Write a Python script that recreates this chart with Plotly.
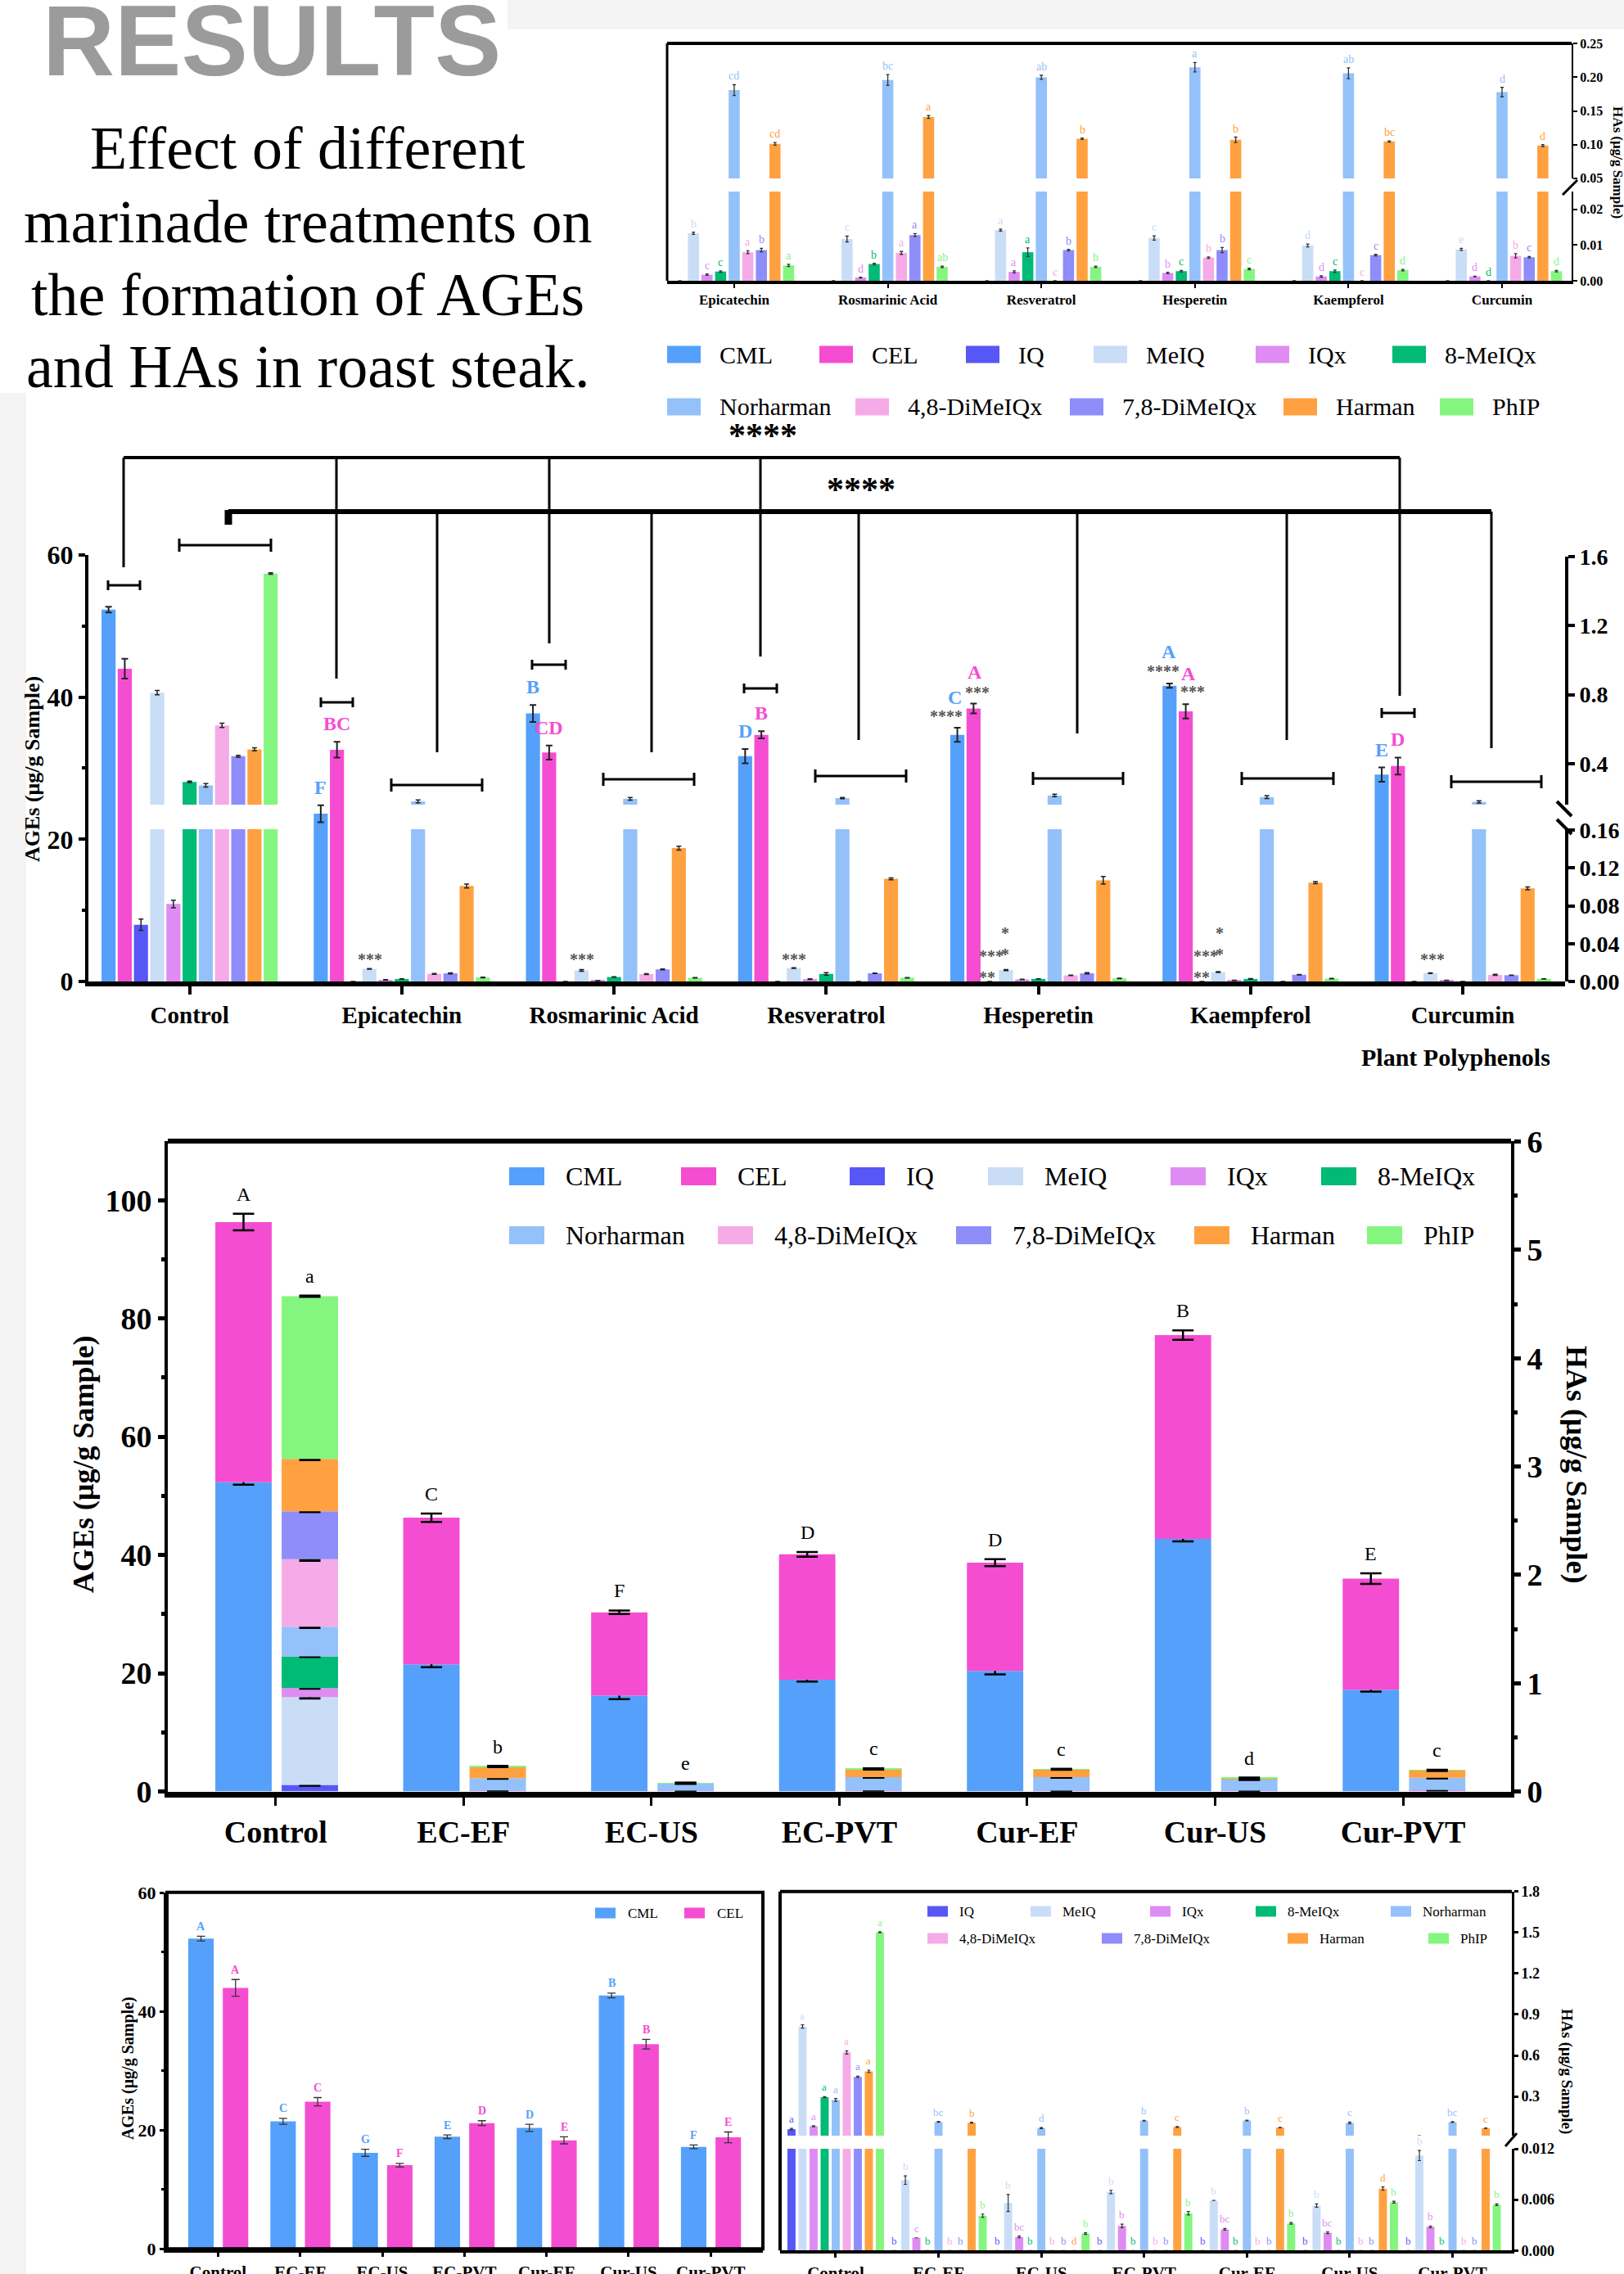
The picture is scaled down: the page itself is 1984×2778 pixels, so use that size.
import numpy as np
import plotly.graph_objects as go

W, H = 1984, 2778
SERIF = "Liberation Serif"
SANS = "Liberation Sans"

# ----------------------------- data ---------------------------------
polyphenols = ["Epicatechin", "Rosmarinic Acid", "Resveratrol", "Hesperetin", "Kaempferol", "Curcumin"]
treatments = ["Control", "EC-EF", "EC-US", "EC-PVT", "Cur-EF", "Cur-US", "Cur-PVT"]
ha_names = ["IQ", "MeIQ", "IQx", "8-MeIQx", "Norharman", "4,8-DiMeIQx", "7,8-DiMeIQx", "Harman", "PhIP"]
age_names = ["CML", "CEL"]

# AGEs (ug/g sample) by treatment
trt_cml = [52.3, 21.5, 16.2, 18.9, 20.4, 42.7, 17.2]
trt_cml_err = [0.4, 0.5, 0.6, 0.3, 0.6, 0.4, 0.3]
trt_cel = [44.0, 24.8, 14.1, 21.2, 18.3, 34.5, 18.8]
trt_cel_err = [1.4, 0.7, 0.3, 0.4, 0.6, 0.8, 0.9]
trt_cml_let = ["A", "C", "G", "E", "D", "B", "F"]
trt_cel_let = ["A", "C", "F", "D", "E", "B", "E"]
trt_age_sum_let = ["A", "C", "F", "D", "D", "B", "E"]
trt_ha_sum_let = ["a", "b", "e", "c", "c", "d", "c"]

# AGEs by plant polyphenol
poly_cml = [23.6, 37.7, 31.7, 34.7, 41.6, 29.1]
poly_cml_err = [1.2, 1.2, 1.0, 1.0, 0.3, 1.0]
poly_cel = [32.6, 32.2, 34.7, 38.4, 38.0, 30.3]
poly_cel_err = [1.1, 1.0, 0.5, 0.7, 1.0, 1.2]
poly_cml_let = ["F", "B", "D", "C", "A", "E"]
poly_cel_let = ["BC", "CD", "B", "A", "A", "D"]

# HAs (ug/g sample) by plant polyphenol
poly_iq = [0, 0, 0, 0, 0, 0]
poly_meiq = [0.0133, 0.0117, 0.0142, 0.0120, 0.0099, 0.0088]
poly_iqx = [0.0017, 0.0009, 0.0025, 0.0022, 0.0012, 0.0012]
poly_8meiqx = [0.0026, 0.0047, 0.0080, 0.0027, 0.0027, 0.0]
poly_norharman = [0.181, 0.196, 0.200, 0.215, 0.206, 0.178]
poly_48dimeiqx = [0.0080, 0.0078, 0.0, 0.0065, 0.0, 0.0070]
poly_78dimeiqx = [0.0086, 0.0128, 0.0086, 0.0086, 0.0072, 0.0066]
poly_harman = [0.101, 0.141, 0.1086, 0.107, 0.1045, 0.0985]
poly_phip = [0.0043, 0.0039, 0.0039, 0.0033, 0.0030, 0.0027]

poly_iq_err = [0, 0, 0, 0, 0, 0]
poly_meiq_err = [0.0003, 0.0008, 0.0003, 0.0006, 0.0004, 0.0003]
poly_iqx_err = [0.0002, 0.0001, 0.0003, 0.0002, 0.0002, 0.0001]
poly_8meiqx_err = [0.0002, 0.0002, 0.0012, 0.0002, 0.0003, 0]
poly_norharman_err = [0.008, 0.008, 0.003, 0.007, 0.008, 0.007]
poly_48dimeiqx_err = [0.0004, 0.0004, 0, 0.0002, 0, 0.0006]
poly_78dimeiqx_err = [0.0005, 0.0004, 0.0002, 0.0007, 0.0002, 0.0002]
poly_harman_err = [0.002, 0.002, 0.001, 0.004, 0.001, 0.0015]
poly_phip_err = [0.0003, 0.0002, 0.0002, 0.0002, 0.0002, 0.0002]

poly_iq_let = ["", "", "", "", "", ""]
poly_meiq_let = ["b", "c", "a", "c", "d", "e"]
poly_iqx_let = ["c", "d", "a", "b", "d", "d"]
poly_8meiqx_let = ["c", "b", "a", "c", "c", "d"]
poly_norharman_let = ["cd", "bc", "ab", "a", "ab", "d"]
poly_48dimeiqx_let = ["a", "a", "c", "b", "c", "b"]
poly_78dimeiqx_let = ["b", "a", "b", "b", "c", "c"]
poly_harman_let = ["cd", "a", "b", "b", "bc", "d"]
poly_phip_let = ["a", "ab", "b", "c", "d", "d"]

# HAs (ug/g sample) by treatment
trt_iq = [0.060, 0, 0, 0, 0, 0, 0]
trt_meiq = [0.812, 0.0083, 0.0056, 0.0069, 0.0059, 0.0053, 0.0112]
trt_iqx = [0.082, 0.0015, 0.0016, 0.0029, 0.0025, 0.0021, 0.0028]
trt_8meiqx = [0.294, 0, 0, 0, 0, 0, 0]
trt_norharman = [0.274, 0.113, 0.068, 0.122, 0.123, 0.106, 0.112]
trt_48dimeiqx = [0.622, 0, 0, 0, 0, 0, 0]
trt_78dimeiqx = [0.443, 0, 0, 0, 0, 0, 0]
trt_harman = [0.483, 0.107, 0, 0.076, 0.072, 0.0073, 0.067]
trt_phip = [1.503, 0.0041, 0.0020, 0.0044, 0.0032, 0.0057, 0.0054]

trt_iq_err = [0.006, 0, 0, 0, 0, 0, 0]
trt_meiq_err = [0.012, 0.0005, 0.0010, 0.0002, 0.0, 0.0002, 0.0006]
trt_iqx_err = [0.004, 0.0, 0.0001, 0.0002, 0.0001, 0.0001, 0.0001]
trt_8meiqx_err = [0.004, 0, 0, 0, 0, 0, 0]
trt_norharman_err = [0.010, 0.003, 0.004, 0.002, 0.002, 0.006, 0.003]
trt_48dimeiqx_err = [0.012, 0, 0, 0, 0, 0, 0]
trt_78dimeiqx_err = [0.005, 0, 0, 0, 0, 0, 0]
trt_harman_err = [0.009, 0.003, 0, 0.003, 0.002, 0.0002, 0.002]
trt_phip_err = [0.004, 0.0002, 0.0001, 0.0002, 0.0001, 0.0001, 0.0001]

trt_iq_let = ["a", "b", "b", "b", "b", "b", "b"]
trt_meiq_let = ["a", "b", "b", "b", "b", "b", "b"]
trt_iqx_let = ["a", "c", "bc", "b", "bc", "bc", "b"]
trt_8meiqx_let = ["a", "b", "b", "b", "b", "b", "b"]
trt_norharman_let = ["a", "bc", "d", "b", "b", "c", "bc"]
trt_48dimeiqx_let = ["a", "b", "b", "b", "b", "b", "b"]
trt_78dimeiqx_let = ["a", "b", "b", "b", "b", "b", "b"]
trt_harman_let = ["a", "b", "d", "c", "c", "d", "c"]
trt_phip_let = ["a", "b", "b", "b", "b", "b", "b"]

colors = {"CML": "#55A0FA", "CEL": "#F54DD2", "IQ": "#5757F5", "MeIQ": "#C9DDF7",
          "IQx": "#DE8CF4", "8-MeIQx": "#00BA75", "Norharman": "#94C1F9",
          "4,8-DiMeIQx": "#F5ABE7", "7,8-DiMeIQx": "#8F8DFA", "Harman": "#FFA140",
          "PhIP": "#84F680"}

poly_ha = dict(zip(ha_names, [poly_iq, poly_meiq, poly_iqx, poly_8meiqx, poly_norharman,
                              poly_48dimeiqx, poly_78dimeiqx, poly_harman, poly_phip]))
poly_ha_err = dict(zip(ha_names, [poly_iq_err, poly_meiq_err, poly_iqx_err, poly_8meiqx_err,
                                  poly_norharman_err, poly_48dimeiqx_err, poly_78dimeiqx_err,
                                  poly_harman_err, poly_phip_err]))
poly_ha_let = dict(zip(ha_names, [poly_iq_let, poly_meiq_let, poly_iqx_let, poly_8meiqx_let,
                                  poly_norharman_let, poly_48dimeiqx_let, poly_78dimeiqx_let,
                                  poly_harman_let, poly_phip_let]))
trt_ha = dict(zip(ha_names, [trt_iq, trt_meiq, trt_iqx, trt_8meiqx, trt_norharman,
                             trt_48dimeiqx, trt_78dimeiqx, trt_harman, trt_phip]))
trt_ha_err = dict(zip(ha_names, [trt_iq_err, trt_meiq_err, trt_iqx_err, trt_8meiqx_err,
                                 trt_norharman_err, trt_48dimeiqx_err, trt_78dimeiqx_err,
                                 trt_harman_err, trt_phip_err]))
trt_ha_let = dict(zip(ha_names, [trt_iq_let, trt_meiq_let, trt_iqx_let, trt_8meiqx_let,
                                 trt_norharman_let, trt_48dimeiqx_let, trt_78dimeiqx_let,
                                 trt_harman_let, trt_phip_let]))
trt_age = {"CML": trt_cml, "CEL": trt_cel}
trt_age_err = {"CML": trt_cml_err, "CEL": trt_cel_err}
trt_age_let = {"CML": trt_cml_let, "CEL": trt_cel_let}


# ----------------------------- helpers ------------------------------
def xp(v):
    return v / W


def yp(v):
    return 1 - v / H


shapes = []
ann = []


def line(x0, y0, x1, y1, w=3, color="black"):
    shapes.append(dict(type="line", xref="paper", yref="paper", x0=xp(x0), y0=yp(y0),
                       x1=xp(x1), y1=yp(y1), line=dict(color=color, width=w)))


def rect(x0, y0, x1, y1, fill=None, lw=0, lc="black", layer="above"):
    d = dict(type="rect", xref="paper", yref="paper", x0=xp(x0), y0=yp(y1), x1=xp(x1), y1=yp(y0),
             line=dict(color=lc, width=lw), layer=layer)
    if fill:
        d["fillcolor"] = fill
    shapes.append(d)


def text(x, y, t, size, color="black", bold=False, family=SERIF, xanchor="center",
         yanchor="middle", angle=0, align="center"):
    ann.append(dict(xref="paper", yref="paper", x=xp(x), y=yp(y), text=t, showarrow=False,
                    font=dict(family=family, size=size, color=color,
                              weight="bold" if bold else "normal"),
                    xanchor=xanchor, yanchor=yanchor, textangle=angle, align=align))


def ibracket(x0, x1, y, lw=3, cap=6):
    line(x0, y, x1, y, lw)
    line(x0, y - cap, x0, y + cap, lw)
    line(x1, y - cap, x1, y + cap, lw)


def errs_nz(vals, errs):
    return [e if v > 0 else None for v, e in zip(vals, errs)]


def xaxis_cfg(x0, x1, cats, rng, anchor, size, lw, tlen, tw):
    return dict(domain=[xp(x0), xp(x1)], type="category", categoryorder="array",
                categoryarray=cats, range=rng, anchor=anchor, showline=True,
                linecolor="black", linewidth=lw, ticks="outside", ticklen=tlen, tickwidth=tw,
                tickcolor="black", showgrid=False, zeroline=False, automargin=False,
                tickfont=dict(family=SERIF, size=size, color="black", weight="bold"))


def yaxis_cfg(top, bottom, rng, anchor, side, tv, tt, size, lw, tlen, tw, minor=None,
              overlaying=None):
    d = dict(range=rng, anchor=anchor, side=side, showline=True, linecolor="black",
             linewidth=lw, ticks="outside", ticklen=tlen, tickwidth=tw, tickcolor="black",
             tickmode="array", tickvals=tv, ticktext=tt, showgrid=False, zeroline=False,
             automargin=False,
             tickfont=dict(family=SERIF, size=size, color="black", weight="bold"))
    if overlaying:
        d["overlaying"] = overlaying
    else:
        d["domain"] = [yp(bottom), yp(top)]
    if minor:
        d["minor"] = dict(tickmode="array", tickvals=minor, ticks="outside",
                          ticklen=max(3, int(tlen * 0.6)), tickwidth=tw, tickcolor="black",
                          showgrid=False)
    return d


fig = go.Figure()

# background details
rect(620, 0, 1984, 36, fill="#f4f4f4", layer="below")
rect(0, 480, 32, 2778, fill="#f3f3f3", layer="below")

# header texts
text(50, 50, "RESULTS", 122, color="#9b9b9b", bold=True, family=SANS, xanchor="left")
for t, yy in zip(["Effect of different", "marinade treatments on",
                  "the formation of AGEs", "and HAs in roast steak."], [181, 271, 360, 448]):
    text(376, yy, t, 74)

# ================= Panel A: HAs by polyphenol (top right) =================
slotA, wA = 0.0885, 0.0725
for i, name in enumerate(ha_names):
    off = (i - 4) * slotA - wA / 2
    vals = poly_ha[name]
    for ya in ("y", "y2"):
        fig.add_trace(go.Bar(x=polyphenols, y=vals, xaxis="x", yaxis=ya, offset=off, width=wA,
                             marker=dict(color=colors[name], line=dict(width=0)),
                             error_y=dict(type="data", array=errs_nz(vals, poly_ha_err[name]),
                                          color="#333333", thickness=1.3, width=2),
                             showlegend=False, hoverinfo="skip"))
    for j, lt in enumerate(poly_ha_let[name]):
        if not lt:
            continue
        ann.append(dict(xref="x", yref="y2" if vals[j] > 0.03 else "y",
                        x=j + (i - 4) * slotA, y=vals[j] + poly_ha_err[name][j], text=lt,
                        showarrow=False, yanchor="bottom", yshift=1,
                        font=dict(family=SERIF, size=14, color=colors[name])))

line(815, 53, 1920, 53, 4)
line(815, 53, 815, 343, 3)
line(1909, 238, 1927, 220, 3)
text(1976, 198, "HAs (μg/g Sample)", 17, bold=True, angle=90)

# legend 1
leg1 = [("CML", 815, 433), ("CEL", 1001, 433), ("IQ", 1180, 433), ("MeIQ", 1336, 433),
        ("IQx", 1534, 433), ("8-MeIQx", 1701, 433), ("Norharman", 815, 497),
        ("4,8-DiMeIQx", 1045, 497), ("7,8-DiMeIQx", 1307, 497), ("Harman", 1568, 497),
        ("PhIP", 1759, 497)]
for name, lx, ly in leg1:
    rect(lx, ly - 10.5, lx + 41, ly + 10.5, fill=colors[name])
    text(lx + 62, ly, name, 30, xanchor="left")

# ================= Panel B: AGEs & HAs by polyphenol =================
catsB = ["Control"] + polyphenols
slotB, wB = 0.0764, 0.0663
ageB = {"CML": [trt_cml[0]] + poly_cml, "CEL": [trt_cel[0]] + poly_cel}
ageB_err = {"CML": [trt_cml_err[0]] + poly_cml_err, "CEL": [trt_cel_err[0]] + poly_cel_err}
for k, name in enumerate(age_names):
    fig.add_trace(go.Bar(x=catsB, y=ageB[name], xaxis="x2", yaxis="y3",
                         offset=(k - 5) * slotB - wB / 2, width=wB,
                         marker=dict(color=colors[name], line=dict(width=0)),
                         error_y=dict(type="data", array=ageB_err[name], color="#222222",
                                      thickness=2, width=4),
                         showlegend=False, hoverinfo="skip"))
for i, name in enumerate(ha_names):
    k = i + 2
    vals = [trt_ha[name][0]] + poly_ha[name]
    errs = [trt_ha_err[name][0]] + poly_ha_err[name]
    for ya in ("y4", "y5"):
        fig.add_trace(go.Bar(x=catsB, y=vals, xaxis="x2", yaxis=ya,
                             offset=(k - 5) * slotB - wB / 2, width=wB,
                             marker=dict(color=colors[name], line=dict(width=0)),
                             error_y=dict(type="data", array=errs_nz(vals, errs),
                                          color="#222222", thickness=1.5, width=3),
                             showlegend=False, hoverinfo="skip"))

letB = {"CML": [""] + poly_cml_let, "CEL": [""] + poly_cel_let}
for k, name in enumerate(age_names):
    for j in range(1, 7):
        if j in (4, 5):
            continue
        ann.append(dict(xref="x2", yref="y3", x=j + (k - 5) * slotB,
                        y=ageB[name][j] + ageB_err[name][j], text=letB[name][j],
                        showarrow=False, yanchor="middle", yshift=22,
                        font=dict(family=SERIF, size=24, color=colors[name], weight="bold")))
# Hesperetin & Kaempferol labels with significance stars
text(1166, 852, "C", 24, colors["CML"], bold=True)
text(1156, 875, "****", 20, "#555555", bold=True)
text(1194, 846, "***", 20, "#555555", bold=True)
text(1191, 821, "A", 24, colors["CEL"], bold=True)
text(1428, 796, "A", 24, colors["CML"], bold=True)
text(1421, 820, "****", 20, "#555555", bold=True)
text(1452, 823, "A", 24, colors["CEL"], bold=True)
text(1457, 845, "***", 20, "#555555", bold=True)
# small stars over MeIQ bars
for sx in (452, 711, 970, 1750):
    text(sx, 1172, "***", 20, "#555555", bold=True)
for sx in (1228, 1490):
    text(sx, 1153, "*<br>*", 20, "#555555", bold=True)
    text(sx - 17, 1181, "***<br>**", 20, "#555555", bold=True, align="left")

# significance trees
line(151, 559, 1710, 559, 4)
for vx, vy in [(151, 693), (411, 829), (671, 786), (929, 802), (1710, 850)]:
    line(vx, 559, vx, vy, 3)
line(279, 625, 1822, 625, 6)
line(279, 623, 279, 641, 9)
for vx, vy in [(534, 919), (796, 919), (1049, 904), (1316, 896), (1572, 904), (1822, 914)]:
    line(vx, 625, vx, vy, 3)
for x0, x1, yy in [(132, 171, 715), (392, 431, 858), (650, 691, 812), (909, 949, 841),
                   (1688, 1728, 871)]:
    ibracket(x0, x1, yy, 3, 6)
for x0, x1, yy in [(219, 331, 666), (478, 589, 959), (737, 848, 952), (996, 1107, 948),
                   (1262, 1372, 951), (1517, 1629, 951), (1773, 1883, 955)]:
    ibracket(x0, x1, yy, 3, 8)
text(932, 532, "****", 42, bold=True)
text(1052, 598, "****", 42, bold=True)
line(1902, 979, 1920, 997, 4)
line(1902, 1001, 1920, 1019, 4)
text(40, 940, "AGEs (μg/g Sample)", 26, bold=True, angle=-90)
text(1778, 1292, "Plant Polyphenols", 30, bold=True)

# ================= Panel C: stacked totals =================
wC, offAGE, offHA = 0.30, -0.321, 0.032
base = np.zeros(len(treatments))
for name in age_names:
    vals = np.array(trt_age[name], dtype=float)
    fig.add_trace(go.Bar(x=treatments, y=vals, base=base.copy(), xaxis="x3", yaxis="y6",
                         offset=offAGE, width=wC,
                         marker=dict(color=colors[name], line=dict(width=0)),
                         error_y=dict(type="data", array=trt_age_err[name], color="black",
                                      thickness=2.5, width=13),
                         showlegend=False, hoverinfo="skip"))
    base = base + vals
age_tot = base
base = np.zeros(len(treatments))
for name in ha_names:
    vals = np.array(trt_ha[name], dtype=float)
    fig.add_trace(go.Bar(x=treatments, y=vals, base=base.copy(), xaxis="x3", yaxis="y7",
                         offset=offHA, width=wC,
                         marker=dict(color=colors[name], line=dict(width=0)),
                         error_y=dict(type="data", array=errs_nz(vals, trt_ha_err[name]),
                                      color="black", thickness=3, width=13),
                         showlegend=False, hoverinfo="skip"))
    base = base + vals
ha_tot = base
for j in range(len(treatments)):
    ann.append(dict(xref="x3", yref="y6", x=j + offAGE + wC / 2, y=age_tot[j] + trt_cel_err[j],
                    text=trt_age_sum_let[j], showarrow=False, yanchor="middle", yshift=24,
                    font=dict(family=SERIF, size=24, color="black")))
    ann.append(dict(xref="x3", yref="y7", x=j + offHA + wC / 2, y=ha_tot[j],
                    text=trt_ha_sum_let[j], showarrow=False, yanchor="middle", yshift=24,
                    font=dict(family=SERIF, size=24, color="black")))
line(205, 1394, 1846, 1394, 6)
text(102, 1789, "AGEs (μg/g Sample)", 36, bold=True, angle=-90)
text(1926, 1789, "HAs (μg/g Sample)", 36, bold=True, angle=90)
leg3 = [("CML", 622, 1437), ("CEL", 832, 1437), ("IQ", 1038, 1437), ("MeIQ", 1207, 1437),
        ("IQx", 1430, 1437), ("8-MeIQx", 1614, 1437), ("Norharman", 622, 1509),
        ("4,8-DiMeIQx", 877, 1509), ("7,8-DiMeIQx", 1168, 1509), ("Harman", 1459, 1509),
        ("PhIP", 1670, 1509)]
for name, lx, ly in leg3:
    rect(lx, ly - 11, lx + 43, ly + 11, fill=colors[name])
    text(lx + 67, ly, name, 32, xanchor="left")

# ================= Panel D: AGEs by treatment =================
wD = 0.31
for name, off in zip(age_names, [-0.363, 0.058]):
    fig.add_trace(go.Bar(x=treatments, y=trt_age[name], xaxis="x4", yaxis="y8", offset=off,
                         width=wD, marker=dict(color=colors[name], line=dict(width=0)),
                         error_y=dict(type="data", array=trt_age_err[name], color="#333333",
                                      thickness=1.3, width=5),
                         showlegend=False, hoverinfo="skip"))
    for j, lt in enumerate(trt_age_let[name]):
        ann.append(dict(xref="x4", yref="y8", x=j + off + wD / 2,
                        y=trt_age[name][j] + trt_age_err[name][j], text=lt, showarrow=False,
                        yanchor="middle", yshift=12,
                        font=dict(family=SERIF, size=14, color=colors[name], weight="bold")))
rect(204, 2311.7, 932, 2747.3, lw=4)
text(156, 2527, "AGEs (μg/g Sample)", 20, bold=True, angle=-90)
for name, lx, ly in [("CML", 727, 2337), ("CEL", 836, 2337)]:
    rect(lx, ly - 6.5, lx + 25, ly + 6.5, fill=colors[name])
    text(lx + 38, ly, name, 17, xanchor="left")

# ================= Panel E: HAs by treatment =================
slotE, wE = 0.1075, 0.079
for i, name in enumerate(ha_names):
    off = (i - 4) * slotE - wE / 2
    vals = trt_ha[name]
    for ya in ("y9", "y10"):
        fig.add_trace(go.Bar(x=treatments, y=vals, xaxis="x5", yaxis=ya, offset=off, width=wE,
                             marker=dict(color=colors[name], line=dict(width=0)),
                             error_y=dict(type="data", array=errs_nz(vals, trt_ha_err[name]),
                                          color="#333333", thickness=1.2, width=2),
                             showlegend=False, hoverinfo="skip"))
    for j, lt in enumerate(trt_ha_let[name]):
        ann.append(dict(xref="x5", yref="y10" if vals[j] > 0.013 else "y9",
                        x=j + (i - 4) * slotE, y=vals[j] + trt_ha_err[name][j], text=lt,
                        showarrow=False, yanchor="bottom", yshift=2,
                        font=dict(family=SERIF, size=13, color=colors[name])))
line(953, 2310.7, 1847, 2310.7, 4)
line(953, 2310.7, 953, 2749.3, 4)
line(1839, 2622, 1853, 2606, 3)
text(1914, 2530, "HAs (μg/g Sample)", 19, bold=True, angle=90)
leg5 = [("IQ", 1133, 2335), ("MeIQ", 1259, 2335), ("IQx", 1405, 2335), ("8-MeIQx", 1534, 2335),
        ("Norharman", 1699, 2335), ("4,8-DiMeIQx", 1133, 2368), ("7,8-DiMeIQx", 1346, 2368),
        ("Harman", 1573, 2368), ("PhIP", 1745, 2368)]
for name, lx, ly in leg5:
    rect(lx, ly - 6.5, lx + 25, ly + 6.5, fill=colors[name])
    text(lx + 37, ly, name, 17, xanchor="left")

# ----------------------------- layout --------------------------------
layout = dict(
    width=W, height=H, margin=dict(l=0, r=0, t=0, b=0, autoexpand=False),
    paper_bgcolor="white",
    plot_bgcolor="rgba(0,0,0,0)", barmode="overlay", showlegend=False,
    shapes=shapes, annotations=ann,
    xaxis=xaxis_cfg(815, 1920, polyphenols, [-0.437, 5.453], "y", 17, 4, 5, 2),
    yaxis=yaxis_cfg(234, 343, [0, 0.025], "x", "right", [0, 0.01, 0.02],
                    ["0.00", "0.01", "0.02"], 16, 2, 5, 2),
    yaxis2=yaxis_cfg(53, 218, [0.0495, 0.2505], "x", "right", [0.05, 0.10, 0.15, 0.20, 0.25],
                     ["0.05", "0.10", "0.15", "0.20", "0.25"], 16, 2, 5, 2),
    xaxis2=xaxis_cfg(108, 1912, catsB, [-0.477, 6.482], "y3", 29, 6, 10, 4),
    yaxis3=yaxis_cfg(677.5, 1199, [0, 60.05], "x2", "left", [0, 20, 40, 60],
                     ["0", "20", "40", "60"], 32, 4, 8, 4, minor=[10, 30, 50]),
    yaxis4=yaxis_cfg(1013, 1199, [0, 0.161], "x2", "right", [0, 0.04, 0.08, 0.12, 0.16],
                     ["0.00", "0.04", "0.08", "0.12", "0.16"], 28, 4, 8, 4),
    yaxis5=yaxis_cfg(680, 983, [0.162, 1.601], "x2", "right", [0.4, 0.8, 1.2, 1.6],
                     ["0.4", "0.8", "1.2", "1.6"], 28, 4, 8, 4),
    xaxis3=xaxis_cfg(205, 1846, treatments, [-0.574, 6.575], "y6", 38, 7, 10, 3),
    yaxis6=yaxis_cfg(1394, 2188.5, [0, 110], "x3", "left", [0, 20, 40, 60, 80, 100],
                     ["0", "20", "40", "60", "80", "100"], 38, 4, 8, 5,
                     minor=[10, 30, 50, 70, 90]),
    yaxis7=yaxis_cfg(1394, 2188.5, [0, 6.005], "x3", "right", [0, 1, 2, 3, 4, 5, 6],
                     ["0", "1", "2", "3", "4", "5", "6"], 38, 4, 8, 5,
                     minor=[0.5, 1.5, 2.5, 3.5, 4.5, 5.5], overlaying="y6"),
    xaxis4=xaxis_cfg(204, 932, treatments, [-0.622, 6.635], "y8", 21, 5, 5, 3),
    yaxis8=yaxis_cfg(2311.7, 2747.3, [0, 60.1], "x4", "left", [0, 20, 40, 60],
                     ["0", "20", "40", "60"], 22, 4, 5, 3, minor=[10, 30, 50]),
    xaxis5=xaxis_cfg(953, 1847, treatments, [-0.541, 6.577], "y9", 21, 4, 5, 3),
    yaxis9=yaxis_cfg(2625, 2749.3, [0, 0.012], "x5", "right", [0, 0.006, 0.012],
                     ["0.000", "0.006", "0.012"], 18, 3, 5, 3),
    yaxis10=yaxis_cfg(2310.7, 2609, [0.0124, 1.801], "x5", "right",
                      [0.3, 0.6, 0.9, 1.2, 1.5, 1.8], ["0.3", "0.6", "0.9", "1.2", "1.5", "1.8"],
                      18, 3, 5, 3),
)
fig.update_layout(**layout)

fig.write_html("out.html", include_plotlyjs=True, full_html=True,
               config={"displayModeBar": False},
               post_script="document.body.style.margin='0px';")
